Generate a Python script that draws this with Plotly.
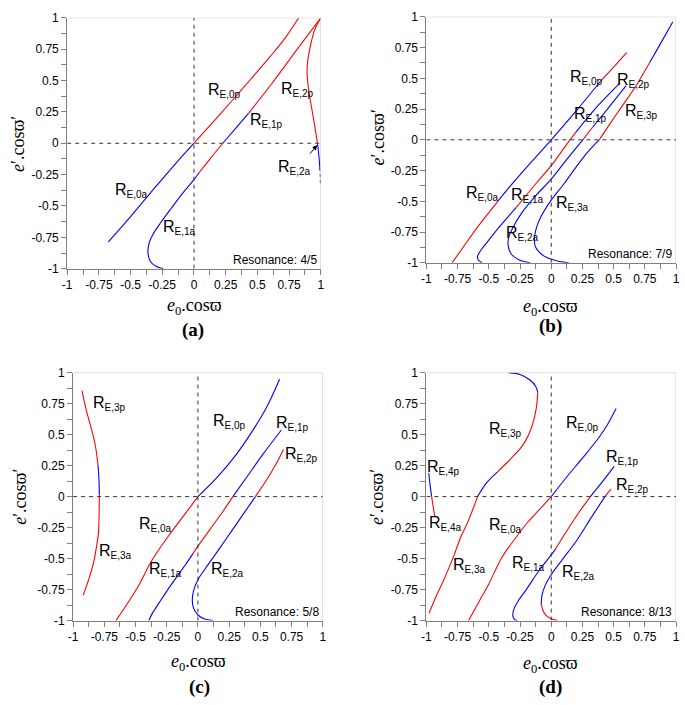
import plotly.graph_objects as go

W, H = 685, 705
RED, BLUE = "#ff0000", "#0000ff"

TICK_VALS = [-1, -0.75, -0.5, -0.25, 0, 0.25, 0.5, 0.75, 1]
TICK_TEXT = ["-1", "-0.75", "-0.5", "-0.25", "0", "0.25", "0.5", "0.75", "1"]
MINOR_VALS = [-0.875, -0.625, -0.375, -0.125, 0.125, 0.375, 0.625, 0.875]

# ---------------- panel (a) : resonance 4/5 ----------------
SEG_A = [
    (BLUE, [-0.675, -0.5, -0.33, -0.16, 0], [-0.786, -0.585, -0.38, -0.18, 0]),
    (RED, [0, 0.2, 0.4, 0.6, 0.72, 0.826], [0, 0.225, 0.455, 0.69, 0.84, 1.0]),
    (BLUE, [-0.24, -0.3, -0.345, -0.363, -0.355, -0.32, -0.26, -0.18, -0.09, 0, 0.04],
           [-1, -0.98, -0.94, -0.87, -0.8, -0.72, -0.63, -0.52, -0.4, -0.29, -0.235]),
    (RED, [0.04, 0.13, 0.227], [-0.235, -0.12, 0]),
    (BLUE, [0.227, 0.33, 0.43], [0, 0.12, 0.238]),
    (RED, [0.43, 0.611, 0.8, 1.0], [0.238, 0.472, 0.73, 1.0]),
    (RED, [1.0, 0.95, 0.915, 0.895, 0.892, 0.905, 0.928, 0.95, 0.974],
          [1.0, 0.9, 0.76, 0.64, 0.55, 0.42, 0.28, 0.15, 0.0]),
    (BLUE, [0.974, 0.985, 0.994], [0.0, -0.1, -0.22]),
    (BLUE, [0.996, 0.997], [-0.245, -0.27]),
    (BLUE, [0.997, 0.997], [-0.29, -0.32]),
]
LAB_A = [
    ("E,0p", 0.104, 0.445), ("E,1p", 0.434, 0.208), ("E,2p", 0.675, 0.453),
    ("E,2a", 0.657, -0.172), ("E,0a", -0.629, -0.354), ("E,1a", -0.252, -0.648),
]
ARROW_A = dict(x=0.972, y=-0.015, ax=0.905, ay=-0.095)

# ---------------- panel (b) : resonance 7/9 ----------------
SEG_B = [
    (RED, [-0.794, -0.7, -0.583, -0.42], [-1, -0.865, -0.7, -0.49]),
    (BLUE, [-0.42, -0.31, -0.15, 0, 0.2, 0.39], [-0.49, -0.355, -0.17, 0, 0.235, 0.47]),
    (RED, [0.39, 0.5, 0.604], [0.47, 0.59, 0.708]),
    (BLUE, [-0.555, -0.585, -0.59, -0.565, -0.5, -0.4, -0.28],
           [-1, -0.975, -0.945, -0.9, -0.815, -0.69, -0.55]),
    (RED, [-0.28, -0.122, 0, 0.15, 0.2], [-0.55, -0.355, -0.21, 0, 0.065]),
    (BLUE, [0.2, 0.35, 0.55], [0.065, 0.25, 0.46]),
    (BLUE, [-0.17, -0.26, -0.32, -0.345, -0.34, -0.31, -0.24, -0.12, 0, 0.12, 0.253],
           [-1, -0.975, -0.93, -0.86, -0.79, -0.72, -0.6, -0.45, -0.32, -0.165, 0]),
    (RED, [0.253, 0.33], [0, 0.1]),
    (BLUE, [0.33, 0.45, 0.6], [0.1, 0.25, 0.44]),
    (BLUE, [0.14, 0.05, -0.04, -0.1, -0.13, -0.134, -0.12, -0.08, 0, 0.104, 0.2, 0.3, 0.385],
           [-1, -0.985, -0.955, -0.91, -0.86, -0.8, -0.72, -0.62, -0.49, -0.355, -0.22, -0.09, 0.0]),
    (RED, [0.385, 0.47, 0.565, 0.68, 0.79], [0, 0.13, 0.27, 0.44, 0.63]),
    (BLUE, [0.79, 0.88, 0.974], [0.63, 0.79, 0.96]),
]
LAB_B = [
    ("E,0p", 0.142, 0.53), ("E,2p", 0.52, 0.506), ("E,1p", 0.171, 0.23),
    ("E,3p", 0.583, 0.256), ("E,0a", -0.694, -0.416), ("E,1a", -0.332, -0.429),
    ("E,3a", 0.029, -0.495), ("E,2a", -0.372, -0.734),
]

# ---------------- panel (c) : resonance 5/8 ----------------
SEG_C = [
    (RED, [-0.929, -0.9, -0.86, -0.823, -0.80], [0.854, 0.72, 0.57, 0.418, 0.25]),
    (BLUE, [-0.80, -0.792, -0.79], [0.25, 0.12, 0.01]),
    (RED, [-0.79, -0.792, -0.797, -0.815, -0.836, -0.875, -0.92],
          [0.01, -0.15, -0.295, -0.42, -0.532, -0.67, -0.796]),
    (RED, [-0.657, -0.57, -0.49, -0.36, -0.23, -0.1, 0], [-1, -0.87, -0.744, -0.5, -0.31, -0.136, 0]),
    (BLUE, [0, 0.15, 0.3, 0.45, 0.55, 0.654], [0, 0.15, 0.33, 0.55, 0.72, 0.947]),
    (BLUE, [-0.393, -0.37, -0.3, -0.2, -0.1, -0.04], [-1, -0.95, -0.84, -0.69, -0.55, -0.46]),
    (RED, [-0.04, 0, 0.1, 0.2, 0.28], [-0.46, -0.40, -0.26, -0.12, 0]),
    (BLUE, [0.28, 0.4, 0.52, 0.668], [0, 0.17, 0.34, 0.537]),
    (BLUE, [0.12, 0.05, 0.0, -0.035, -0.045, -0.035, 0.0, 0.06, 0.13, 0.22, 0.33, 0.46],
           [-1, -0.985, -0.955, -0.9, -0.84, -0.76, -0.67, -0.58, -0.48, -0.35, -0.19, 0]),
    (RED, [0.46, 0.56, 0.63, 0.685], [0, 0.15, 0.27, 0.38]),
]
LAB_C = [
    ("E,3p", -0.85, 0.775), ("E,0p", 0.113, 0.63), ("E,1p", 0.62, 0.617),
    ("E,2p", 0.689, 0.366), ("E,0a", -0.48, -0.202), ("E,3a", -0.797, -0.419),
    ("E,1a", -0.396, -0.564), ("E,2a", 0.1, -0.564),
]

# ---------------- panel (d) : resonance 8/13 ----------------
SEG_D = [
    (BLUE, [-0.34, -0.25, -0.17, -0.125, -0.108], [1.0, 0.985, 0.94, 0.89, 0.84]),
    (RED, [-0.108, -0.112, -0.121, -0.161, -0.227, -0.319, -0.43],
          [0.84, 0.78, 0.705, 0.547, 0.415, 0.31, 0.2]),
    (BLUE, [-0.43, -0.517, -0.59], [0.2, 0.112, 0.0]),
    (RED, [-0.59, -0.662, -0.73, -0.781, -0.86, -0.92, -0.979],
          [0, -0.19, -0.34, -0.48, -0.67, -0.8, -0.942]),
    (BLUE, [-0.981, -0.97, -0.958], [0.19, 0.09, 0.0]),
    (RED, [-0.958, -0.945, -0.932], [0, -0.085, -0.165]),
    (RED, [-0.662, -0.58, -0.5, -0.398, -0.29, -0.187, -0.09, 0],
          [-1, -0.85, -0.705, -0.495, -0.34, -0.205, -0.1, 0]),
    (BLUE, [0, 0.129, 0.25, 0.37, 0.45, 0.52], [0, 0.164, 0.31, 0.46, 0.58, 0.71]),
    (BLUE, [-0.27, -0.295, -0.308, -0.3, -0.27, -0.2, -0.1, 0, 0.03],
           [-1, -0.99, -0.96, -0.91, -0.85, -0.75, -0.6, -0.47, -0.43]),
    (RED, [0.03, 0.129, 0.22, 0.314], [-0.43, -0.27, -0.13, 0]),
    (BLUE, [0.314, 0.41, 0.504], [0, 0.12, 0.244]),
    (RED, [0.05, 0.0, -0.04, -0.065, -0.08], [-1, -0.985, -0.96, -0.92, -0.87]),
    (BLUE, [-0.08, -0.075, -0.05, 0.0, 0.08, 0.2, 0.32, 0.43],
           [-0.87, -0.8, -0.72, -0.63, -0.52, -0.36, -0.17, 0]),
    (RED, [0.43, 0.478], [0, 0.06]),
]
LAB_D = [
    ("E,3p", -0.504, 0.565), ("E,0p", 0.108, 0.613), ("E,1p", 0.433, 0.336),
    ("E,2p", 0.512, 0.112), ("E,4p", -1.0, 0.262), ("E,4a", -0.984, -0.191),
    ("E,0a", -0.504, -0.209), ("E,3a", -0.794, -0.534), ("E,1a", -0.325, -0.512),
    ("E,2a", 0.077, -0.586),
]

RESONANCE = ["Resonance: 4/5", "Resonance: 7/9", "Resonance: 5/8", "Resonance: 8/13"]
LETTERS = ["(a)", "(b)", "(c)", "(d)"]

# layout in pixels: plot box (left, right, top, bottom), x-title, y-title, letter centres
BOXES = [(63, 320, 11, 267), (427, 680, 10, 261), (69, 322, 373, 626), (427, 680, 373, 626)]
XT_POS = [(192, 306), (553, 307), (196, 669), (553, 671)]
YT_POS = [(13, 140), (378, 133), (15, 500), (377, 500)]
LET_POS = [(191, 330), (553, 325), (197, 694), (553, 694)]

SEGS = [SEG_A, SEG_B, SEG_C, SEG_D]
LABS = [LAB_A, LAB_B, LAB_C, LAB_D]


def px(xp):
    return xp / W


def py(yp):
    return 1 - yp / H


fig = go.Figure()
annotations = []
shapes = []
SANS = "Liberation Sans, Arial, sans-serif"
SERIF = "Liberation Serif, Times New Roman, serif"
AX_COL = "#7f7f7f"

for i in range(4):
    n = "" if i == 0 else str(i + 1)
    xa, ya = "x" + n, "y" + n
    l, r, t, b = BOXES[i]
    axis_common = dict(
        range=[-1, 1], tickmode="array", tickvals=TICK_VALS, ticktext=TICK_TEXT,
        ticks="outside", ticklen=5, tickwidth=1, tickcolor=AX_COL,
        showline=True, linecolor=AX_COL, linewidth=1, showgrid=False, zeroline=False,
        tickfont=dict(family=SANS, size=12, color="#000"),
        minor=dict(tickvals=MINOR_VALS, ticks="outside", ticklen=5, tickwidth=1,
                   tickcolor=AX_COL, showgrid=False),
        fixedrange=True,
    )
    fig.layout["xaxis" + n] = dict(axis_common, domain=[px(l), px(r)], anchor=ya)
    fig.layout["yaxis" + n] = dict(axis_common, domain=[py(b), py(t)], anchor=xa)

    for col, xs, ys in SEGS[i]:
        fig.add_trace(go.Scatter(x=xs, y=ys, mode="lines", xaxis=xa, yaxis=ya,
                                 line=dict(color=col, width=1.1, shape="spline", smoothing=0.9),
                                 hoverinfo="skip", showlegend=False))

    xr, yr = xa, ya
    shapes.append(dict(type="line", xref=xr, yref=yr, x0=-1, x1=1, y0=1, y1=1,
                       line=dict(color="#c8c8c8", width=1)))
    shapes.append(dict(type="line", xref=xr, yref=yr, x0=1, x1=1, y0=-1, y1=1,
                       line=dict(color="#c8c8c8", width=1)))
    shapes.append(dict(type="line", xref=xr, yref=yr, x0=0, x1=0, y0=-1, y1=1,
                       line=dict(color="#333", width=1, dash="4px,4px")))
    shapes.append(dict(type="line", xref=xr, yref=yr, x0=-1, x1=1, y0=0, y1=0,
                       line=dict(color="#333", width=1, dash="4px,4px")))

    for sub, lx, ly in LABS[i]:
        annotations.append(dict(
            xref=xr, yref=yr, x=lx, y=ly, xanchor="left", yanchor="middle",
            text="R<sub><span style='font-size:10px'>" + sub + "</span></sub>",
            showarrow=False, font=dict(family=SANS, size=16, color="#000"), yshift=-3,
            xshift=-1))

    annotations.append(dict(xref=xr, yref=yr, x=1, y=-1, xanchor="right", yanchor="bottom",
                            xshift=-2, yshift=0, text=RESONANCE[i], showarrow=False,
                            font=dict(family=SANS, size=12, color="#000")))

    xt = XT_POS[i]
    annotations.append(dict(xref="paper", yref="paper", x=px(xt[0]), y=py(xt[1]),
                            xanchor="center", yanchor="middle", showarrow=False,
                            text="<i>e</i><sub>0</sub>.cosϖ",
                            font=dict(family=SERIF, size=18, color="#000")))
    yt = YT_POS[i]
    annotations.append(dict(xref="paper", yref="paper", x=px(yt[0]), y=py(yt[1]),
                            xanchor="center", yanchor="middle", showarrow=False,
                            textangle=-90, text="<i>e</i>′.cosϖ′",
                            font=dict(family=SERIF, size=18, color="#000")))
    lp = LET_POS[i]
    annotations.append(dict(xref="paper", yref="paper", x=px(lp[0]), y=py(lp[1]),
                            xanchor="center", yanchor="middle", showarrow=False,
                            text="<b>" + LETTERS[i] + "</b>",
                            font=dict(family=SERIF, size=19, color="#000")))

annotations.append(dict(xref="x", yref="y", axref="x", ayref="y",
                        x=ARROW_A["x"], y=ARROW_A["y"], ax=ARROW_A["ax"], ay=ARROW_A["ay"],
                        text="", showarrow=True, arrowhead=2, arrowsize=1, arrowwidth=1,
                        arrowcolor="#000"))

fig.update_layout(
    width=W, height=H, margin=dict(l=0, r=0, t=0, b=0),
    paper_bgcolor="white", plot_bgcolor="white",
    annotations=annotations, shapes=shapes, showlegend=False,
)

fig.write_html("out.html", config={"displayModeBar": False},
               post_script="document.body.style.margin='0px';"
                           "document.body.style.padding='0px';"
                           "document.body.style.overflow='hidden';")
